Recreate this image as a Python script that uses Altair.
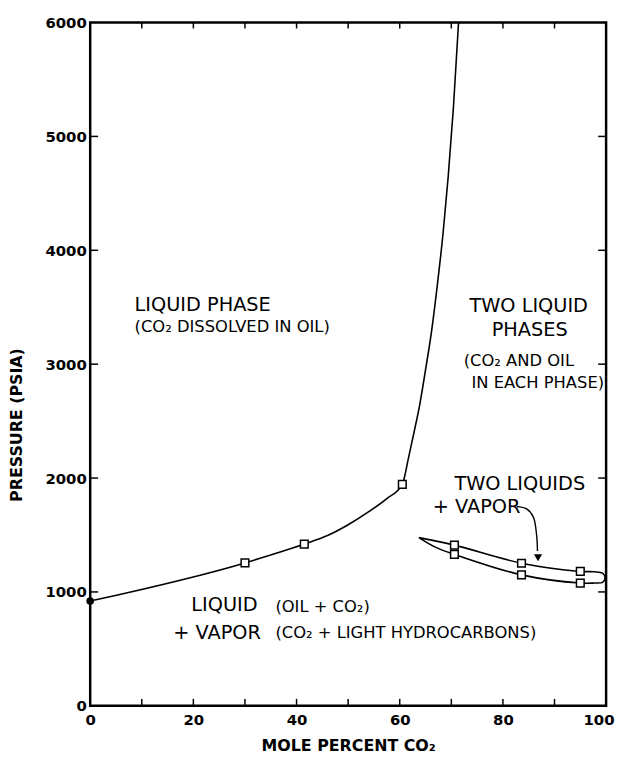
import altair as alt
import pandas as pd

# ---- data ----
# main phase boundary
main_x = [0, 30, 41.5, 46, 50, 54, 57.5, 60.5, 61.7, 62.8, 63.9, 65.0, 66.2, 67.3, 68.4, 69.4, 70.4, 71.4]
main_p = [920, 1255, 1420, 1495, 1590, 1705, 1820, 1945, 2177, 2408, 2650, 2950, 3300, 3700, 4150, 4650, 5250, 6000]
main_sq_x = [30, 41.5, 60.5]
main_sq_p = [1255, 1420, 1945]
start_x = [0]
start_p = [920]

# three-phase (two liquids + vapor) loop, traced in order
loop_x = [63.7, 70.6, 83.6, 95.0, 97.7, 99.3, 99.8, 99.3, 97.7, 95.0, 83.6, 70.6, 67.0, 63.7]
loop_p = [1477, 1411, 1252, 1180, 1177, 1165, 1122, 1084, 1078, 1078, 1150, 1330, 1391, 1477]
loop_sq_x = [70.6, 83.6, 95.0, 70.6, 83.6, 95.0]
loop_sq_p = [1411, 1252, 1180, 1330, 1150, 1078]

# annotation arrow
arrow_x = [82.7, 84.6, 85.9, 86.5, 86.7]
arrow_p = [1749, 1729, 1657, 1512, 1360]
arrow_head_x = [86.8]
arrow_head_p = [1300]

# axes
x_label_values = [0, 20, 40, 60, 80, 100]
y_label_values = [0, 1000, 2000, 3000, 4000, 5000, 6000]
x_tick_values = [10, 20, 30, 40, 50, 60, 70, 80, 90]
y_tick_values = [1000, 2000, 3000, 4000, 5000]

W, H = 521, 690
FONT = "DejaVu Sans"
BIG, SMALL = 19.5, 16.5

xs = alt.Scale(domain=[0, 100], nice=False, zero=False)
ys = alt.Scale(domain=[0, 6000], nice=False, zero=False)

xaxis = alt.Axis(values=x_label_values, ticks=False, domain=False, grid=False,
                 labelFont=FONT, labelFontWeight="bold", labelFontSize=15, labelPadding=7,
                 labelFlush=False, labelColor="black", format="d",
                 labelAlign={"condition": {"test": "datum.value == 100", "value": "right"},
                             "value": "center"},
                 labelOffset={"condition": {"test": "datum.value == 100", "value": 8},
                              "value": 0},
                 title="MOLE  PERCENT  CO₂", titleFont=FONT,
                 titleFontSize=16, titleFontWeight="bold", titlePadding=10, titleColor="black")
yaxis = alt.Axis(values=y_label_values, ticks=False, domain=False, grid=False,
                 labelFont=FONT, labelFontWeight="bold", labelFontSize=15, labelPadding=4,
                 labelFlush=False, labelColor="black", format="d",
                 title="PRESSURE  (PSIA)", titleFont=FONT,
                 titleFontSize=16, titleFontWeight="bold", titleColor="black",
                 titleY=406, titleX=-66)

main_df = pd.DataFrame({"x": main_x, "p": main_p, "o": range(len(main_x))})
main_line = alt.Chart(main_df).mark_line(color="black", strokeWidth=1.6,
                                          interpolate="monotone", clip=True).encode(
    x=alt.X("x:Q", scale=xs, axis=xaxis),
    y=alt.Y("p:Q", scale=ys, axis=yaxis),
    order="o:Q",
)

loop_df = pd.DataFrame({"x": loop_x, "p": loop_p, "o": range(len(loop_x))})
loop_line = alt.Chart(loop_df).mark_line(color="black", strokeWidth=1.6,
                                          interpolate="catmull-rom").encode(
    x=alt.X("x:Q", scale=xs), y=alt.Y("p:Q", scale=ys), order="o:Q")

arrow_df = pd.DataFrame({"x": arrow_x, "p": arrow_p, "o": range(len(arrow_x))})
arrow_line = alt.Chart(arrow_df).mark_line(color="black", strokeWidth=1.4,
                                            interpolate="catmull-rom").encode(
    x=alt.X("x:Q", scale=xs), y=alt.Y("p:Q", scale=ys), order="o:Q")
arrow_head = alt.Chart(pd.DataFrame({"x": arrow_head_x, "p": arrow_head_p})).mark_point(
    shape="triangle-down", filled=True, color="black", opacity=1, size=70).encode(
    x=alt.X("x:Q", scale=xs), y=alt.Y("p:Q", scale=ys))

sq_df = pd.DataFrame({"x": main_sq_x + loop_sq_x, "p": main_sq_p + loop_sq_p})
squares = alt.Chart(sq_df).mark_point(shape="square", filled=True, fill="white",
                                      stroke="black", strokeWidth=1.5, size=60, opacity=1).encode(
    x=alt.X("x:Q", scale=xs), y=alt.Y("p:Q", scale=ys))
start_pt = alt.Chart(pd.DataFrame({"x": start_x, "p": start_p})).mark_point(
    shape="circle", filled=True, color="black", size=60, opacity=1, clip=False).encode(
    x=alt.X("x:Q", scale=xs), y=alt.Y("p:Q", scale=ys))

# inward ticks on all four sides
tick_x_df = pd.DataFrame({"t": x_tick_values})
tick_y_df = pd.DataFrame({"t": y_tick_values})
tb = alt.Chart(tick_x_df).mark_rule(color="black", strokeWidth=1.5).encode(
    x=alt.X("t:Q", scale=xs), y=alt.value(H), y2=alt.value(H - 7))
tt = alt.Chart(tick_x_df).mark_rule(color="black", strokeWidth=1.5).encode(
    x=alt.X("t:Q", scale=xs), y=alt.value(0), y2=alt.value(6))
tl = alt.Chart(tick_y_df).mark_rule(color="black", strokeWidth=1.5).encode(
    y=alt.Y("t:Q", scale=ys), x=alt.value(0), x2=alt.value(8))
tr = alt.Chart(tick_y_df).mark_rule(color="black", strokeWidth=1.5).encode(
    y=alt.Y("t:Q", scale=ys), x=alt.value(W), x2=alt.value(W - 8))

def label(text, x, p, size, align="left"):
    return alt.Chart(pd.DataFrame({"x": [x], "p": [p], "t": [text]})).mark_text(
        font=FONT, fontSize=size, align=align, baseline="middle", color="black").encode(
        x=alt.X("x:Q", scale=xs), y=alt.Y("p:Q", scale=ys), text="t:N")

texts = [
    label("LIQUID  PHASE", 8.6, 3515, BIG),
    label("(CO₂ DISSOLVED IN OIL)", 8.6, 3322, SMALL),
    label("TWO  LIQUID", 85.0, 3507, BIG, "center"),
    label("PHASES", 85.2, 3304, BIG, "center"),
    label("(CO₂  AND OIL", 72.4, 3030, SMALL),
    label("IN EACH PHASE)", 73.9, 2836, SMALL),
    label("TWO  LIQUIDS", 70.6, 1945, BIG),
    label("+ VAPOR", 66.4, 1743, BIG),
    label("LIQUID", 19.6, 885, BIG),
    label("(OIL + CO₂)", 35.9, 870, SMALL),
    label("+ VAPOR", 16.1, 636, BIG),
    label("(CO₂ + LIGHT HYDROCARBONS)", 35.9, 636, SMALL),
]

chart = alt.layer(main_line, loop_line, arrow_line, arrow_head, squares, start_pt,
                  tb, tt, tl, tr, *texts).properties(
    width=W, height=H,
    autosize=alt.AutoSizeParams(type="none"),
    padding={"left": 83, "top": 11, "right": 10, "bottom": 48},
    background="white",
).configure_view(stroke="black", strokeWidth=2.5)

chart.save("out.html", embed_options={"renderer": "svg", "actions": False})
